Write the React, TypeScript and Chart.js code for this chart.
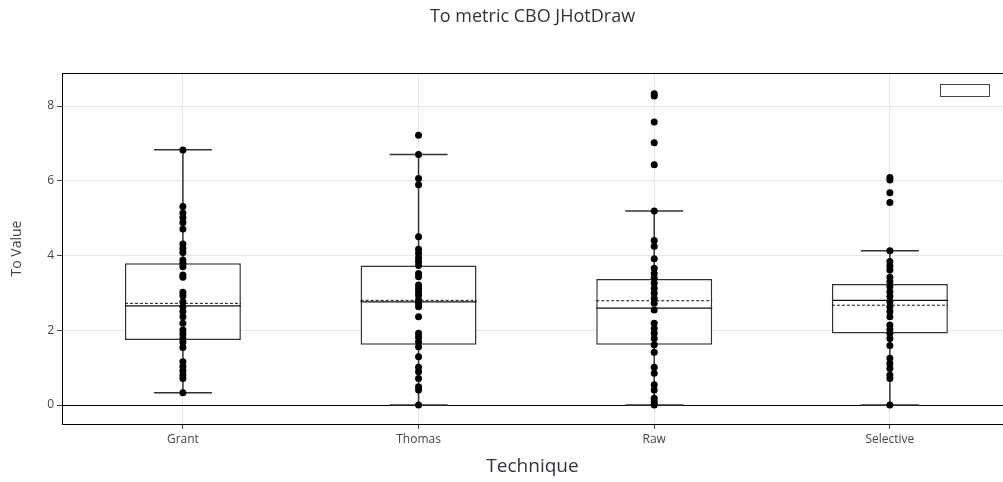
import React, { useEffect, useRef } from "react";
import { Chart, registerables } from "chart.js";

Chart.register(...registerables);

const categories = ["Grant", "Thomas", "Raw", "Selective"];

const grantValues = [6.82, 5.31, 5.14, 5.02, 4.88, 4.71, 4.31, 4.19, 4.08, 3.88, 3.79, 3.7, 3.48, 3.42, 3.02, 2.92, 2.76, 2.63, 2.5, 2.36, 2.19, 2.01, 1.9, 1.78, 1.68, 1.54, 1.16, 1.03, 0.92, 0.8, 0.71, 0.33];
const thomasValues = [7.22, 6.7, 6.06, 5.89, 4.5, 4.17, 4.06, 3.94, 3.84, 3.73, 3.52, 3.43, 3.21, 3.12, 3.03, 2.94, 2.81, 2.72, 2.63, 2.36, 1.92, 1.81, 1.69, 1.56, 1.29, 1.01, 0.89, 0.71, 0.49, 0.4, 0];
const rawValues = [8.33, 8.27, 7.57, 7.02, 6.43, 5.19, 4.4, 4.25, 3.91, 3.66, 3.52, 3.39, 3.26, 3.12, 2.99, 2.85, 2.72, 2.54, 2.19, 2.05, 1.92, 1.78, 1.61, 1.41, 1.01, 0.85, 0.54, 0.4, 0.18, 0.09, 0];
const selectiveValues = [6.09, 6.02, 5.68, 5.42, 4.13, 3.84, 3.72, 3.61, 3.42, 3.3, 3.17, 3.03, 2.9, 2.76, 2.63, 2.5, 2.36, 2.14, 2.02, 1.92, 1.78, 1.59, 1.25, 1.11, 0.98, 0.8, 0.71, 0];

const q1 = [1.74, 1.61, 1.61, 1.91];
const medians = [2.65, 2.76, 2.59, 2.8];
const q3 = [3.79, 3.73, 3.37, 3.24];
const means = [2.72, 2.8, 2.79, 2.67];
const lowerFence = [0.33, 0, 0, 0];
const upperFence = [6.83, 6.7, 5.19, 4.13];

const yTicks = [0, 2, 4, 6, 8];

const BOX_HALF = 0.246;
const CAP_HALF = 0.123;
const X_MIN = -0.513;
const X_MAX = 3.48;
const Y_MIN = -0.508;
const Y_MAX = 8.883;

const FONT = "'Open Sans', 'DejaVu Sans', sans-serif";

const noPadH = (h: number) => (s: any) => {
  s.height = h;
  s.paddingLeft = 0;
  s.paddingRight = 0;
};

export default function App() {
  const ref = useRef<HTMLCanvasElement | null>(null);

  useEffect(() => {
    const groups = [grantValues, thomasValues, rawValues, selectiveValues];
    const points: { x: number; y: number }[] = [];
    groups.forEach((vals, i) => vals.forEach((v) => points.push({ x: i, y: v })));

    const whiskers: any[] = [];
    const caps: any[] = [];
    const medianLines: any[] = [];
    const meanLines: any[] = [];
    categories.forEach((_, i) => {
      whiskers.push({ x: i, y: q3[i] }, { x: i, y: upperFence[i] }, { x: i, y: null });
      whiskers.push({ x: i, y: q1[i] }, { x: i, y: lowerFence[i] }, { x: i, y: null });
      caps.push({ x: i - CAP_HALF, y: upperFence[i] }, { x: i + CAP_HALF, y: upperFence[i] }, { x: i, y: null });
      caps.push({ x: i - CAP_HALF, y: lowerFence[i] }, { x: i + CAP_HALF, y: lowerFence[i] }, { x: i, y: null });
      medianLines.push({ x: i - BOX_HALF, y: medians[i] }, { x: i + BOX_HALF, y: medians[i] }, { x: i, y: null });
      meanLines.push({ x: i - BOX_HALF, y: means[i] }, { x: i + BOX_HALF, y: means[i] }, { x: i, y: null });
    });
    const boxes = categories.map((_, i) => ({ x: i, y: [q1[i], q3[i]] }));

    const lineDs = (data: any[], extra: any) => ({
      type: "line",
      data,
      showLine: true,
      spanGaps: false,
      pointRadius: 0,
      fill: false,
      borderColor: "#333",
      borderWidth: 1.5,
      ...extra,
    });

    const chart = new Chart(ref.current as HTMLCanvasElement, {
      type: "scatter",
      data: {
        datasets: [
          lineDs(whiskers, { order: 5 }),
          lineDs(caps, { order: 5 }),
          {
            type: "bar",
            data: boxes,
            backgroundColor: "#ffffff",
            borderColor: "#333",
            borderWidth: 1.5,
            borderSkipped: false,
            categoryPercentage: 1,
            barPercentage: 2 * BOX_HALF,
            order: 4,
          } as any,
          lineDs(medianLines, { order: 3, borderColor: "#111", borderWidth: 1.2 }),
          lineDs(meanLines, { order: 3, borderColor: "#111", borderWidth: 1, borderDash: [3, 2] }),
          {
            type: "scatter",
            data: points,
            pointRadius: 3.5,
            pointBackgroundColor: "#000",
            pointBorderWidth: 0,
            borderColor: "#000",
            order: 1,
          } as any,
        ] as any,
      },
      options: {
        animation: false,
        responsive: false,
        devicePixelRatio: 1,
        layout: { padding: 0, autoPadding: false },
        plugins: {
          legend: { display: false },
          tooltip: { enabled: false },
          title: { display: false },
        },
        scales: {
          x: {
            type: "linear",
            position: "bottom",
            min: X_MIN,
            max: X_MAX,
            offset: false,
            afterFit: noPadH(58),
            afterBuildTicks: (s: any) => {
              s.ticks = categories.map((_, i) => ({ value: i }));
            },
            ticks: {
              callback: (v: any) => categories[v] ?? "",
              color: "#444",
              font: { family: FONT, size: 12 },
              padding: 3,
              maxRotation: 0,
              autoSkip: false,
            },
            grid: { offset: false, color: "#e6e6e6", tickColor: "#444", tickLength: 5, lineWidth: 1 },
            border: { display: true, color: "#000", width: 1 },
            title: {
              display: true,
              text: "Technique",
              color: "#2c3440",
              font: { family: FONT, size: 19, weight: "normal" },
              padding: { top: 0, bottom: 4 },
            },
          },
          x2: {
            type: "linear",
            position: "top",
            min: X_MIN,
            max: X_MAX,
            offset: false,
            afterFit: noPadH(73),
            afterBuildTicks: (s: any) => {
              s.ticks = [];
            },
            ticks: { display: false },
            grid: { display: false, drawTicks: false, offset: false },
            border: { display: true, color: "#000", width: 1 },
            title: {
              display: true,
              text: "To metric CBO JHotDraw",
              color: "#333",
              font: { family: FONT, size: 18, weight: "normal" },
              padding: { top: 6, bottom: 0 },
            },
          },
          y: {
            type: "linear",
            min: Y_MIN,
            max: Y_MAX,
            afterFit: (s: any) => {
              s.width = 62;
              s.paddingTop = 0;
              s.paddingBottom = 0;
            },
            afterBuildTicks: (s: any) => {
              s.ticks = yTicks.map((v) => ({ value: v }));
            },
            ticks: {
              color: "#444",
              font: { family: FONT, size: 12 },
              padding: 3,
            },
            grid: {
              color: (ctx: any) => (ctx.tick && ctx.tick.value === 0 ? "#000" : "#e6e6e6"),
              tickColor: "#444",
              tickLength: 5,
              lineWidth: 1,
            },
            border: { display: true, color: "#000", width: 1 },
            title: {
              display: true,
              text: "To Value",
              color: "#444",
              font: { family: FONT, size: 14, weight: "normal" },
              padding: { top: 9, bottom: 0 },
            },
          },
        },
      } as any,
    });
    return () => chart.destroy();
  }, []);

  return (
    <div style={{ position: "fixed", left: 0, top: 0, width: 1003, height: 482, background: "#fff" }}>
      <canvas ref={ref} width={1003} height={482} style={{ display: "block" }} />
      <div
        style={{
          position: "absolute",
          left: 940,
          top: 84,
          width: 50,
          height: 13,
          border: "1.5px solid #444",
          boxSizing: "border-box",
          background: "#fff",
        }}
      />
    </div>
  );
}
